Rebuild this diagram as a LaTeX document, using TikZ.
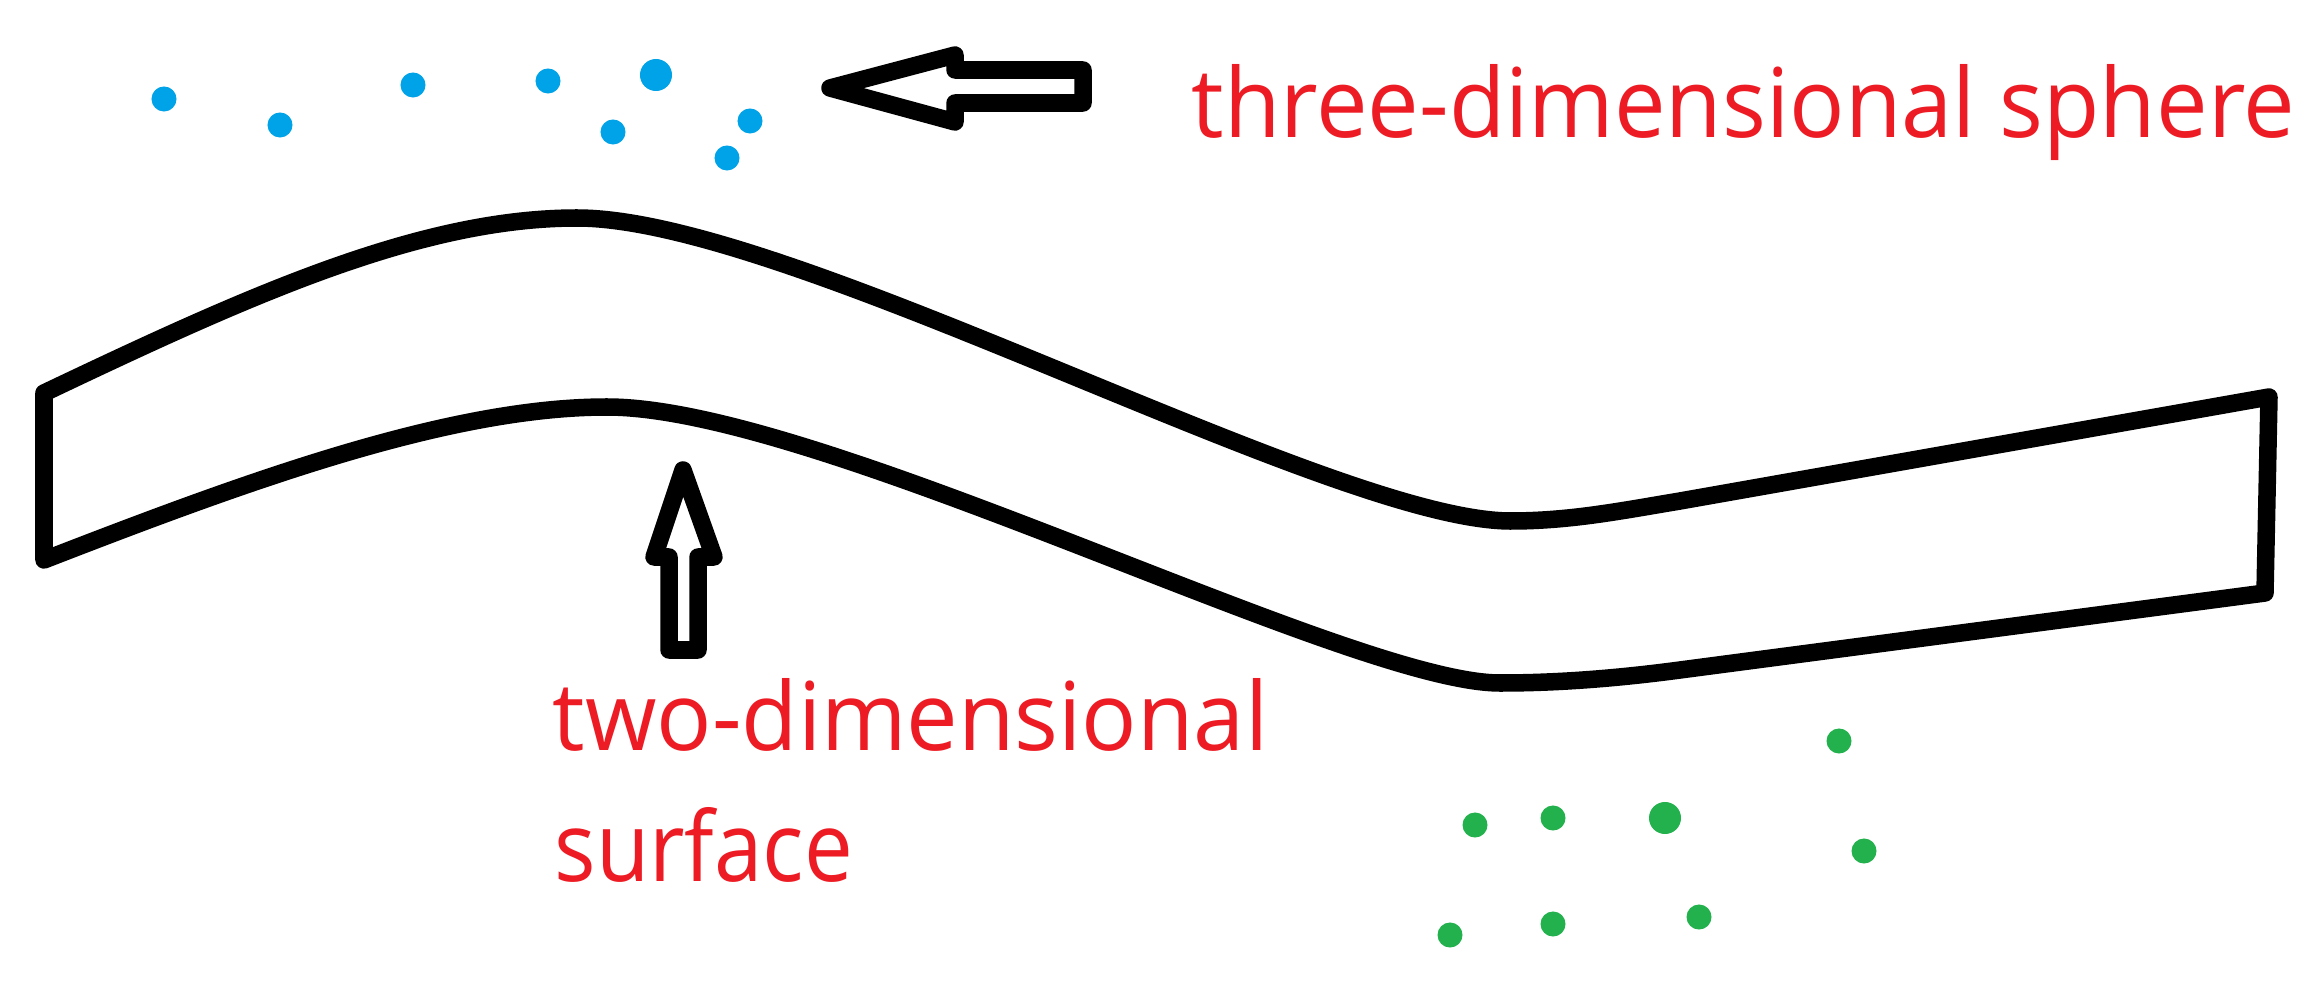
\documentclass[tikz,border=0pt]{standalone}
\usepackage{fontspec}
\setmainfont{Open Sans}
\usepackage{graphicx}
\definecolor{pblue}{RGB}{0,162,232}
\definecolor{pgreen}{RGB}{34,177,76}
\definecolor{pred}{RGB}{237,28,36}
\begin{document}
\begin{tikzpicture}[x=0.01cm,y=-0.01cm,
  outline/.style={line width=0.175cm, line join=round, line cap=round},
  blockarrow/.style={line width=0.175cm, line join=round, line cap=round},
  bluedot/.style={fill=pblue},
  greendot/.style={fill=pgreen},
  lbl/.style={anchor=base west, inner sep=0pt, text=pred}]
\useasboundingbox (0,0) rectangle (2320,982);

% blue dots
\foreach \p/\r in {{(164,99)}/0.125, {(280,125)}/0.125, {(413,85)}/0.125, {(548,81)}/0.125,
                   {(656,75)}/0.16, {(613,132)}/0.125, {(750,121)}/0.125, {(727,158)}/0.125}
  \fill[bluedot] \p circle[radius=\r cm];

% green dots
\foreach \p/\r in {{(1839,741)}/0.125, {(1475,825)}/0.125, {(1553,818)}/0.125, {(1665,818)}/0.16,
                   {(1864,851)}/0.125, {(1450,935)}/0.125, {(1553,924)}/0.125, {(1699,917)}/0.125}
  \fill[greendot] \p circle[radius=\r cm];

% the surface strip
\coordinate (tl) at (44,393);
\coordinate (tr) at (2269,397);
\coordinate (br) at (2265,593);
\coordinate (bl) at (44,560);
\draw[outline]
  (tl) .. controls (250,295) and (420,218) .. (577,218)
       .. controls (790,218) and (1330,520) .. (1510,521)
       .. controls (1570,521) and (1620,511) .. (1680,501)
  -- (tr) -- (br) -- (1680,670)
       .. controls (1620,678) and (1560,683) .. (1500,683)
       .. controls (1350,683) and (820,407) .. (607,407)
       .. controls (450,407) and (250,480) .. (bl)
  -- cycle;

% arrow to the sphere label
\draw[blockarrow] (830,88) -- (955,55) -- (955,70) -- (1083,70) -- (1083,103) -- (955,103) -- (955,122) -- cycle;
% arrow to the surface
\draw[blockarrow] (683,470) -- (714,557) -- (698,557) -- (698,650) -- (669,650) -- (669,557) -- (654,557) -- cycle;

% labels
\node[lbl] (sphere) at (1191,138) {\resizebox{11.03cm}{0.73cm}{three-dimensional sphere}};
\node[lbl] (surf1) at (552,750) {\resizebox{7.15cm}{0.72cm}{two-dimensional}};
\node[lbl] (surf2) at (554,881) {\resizebox{2.98cm}{0.74cm}{surface}};
\end{tikzpicture}
\end{document}
